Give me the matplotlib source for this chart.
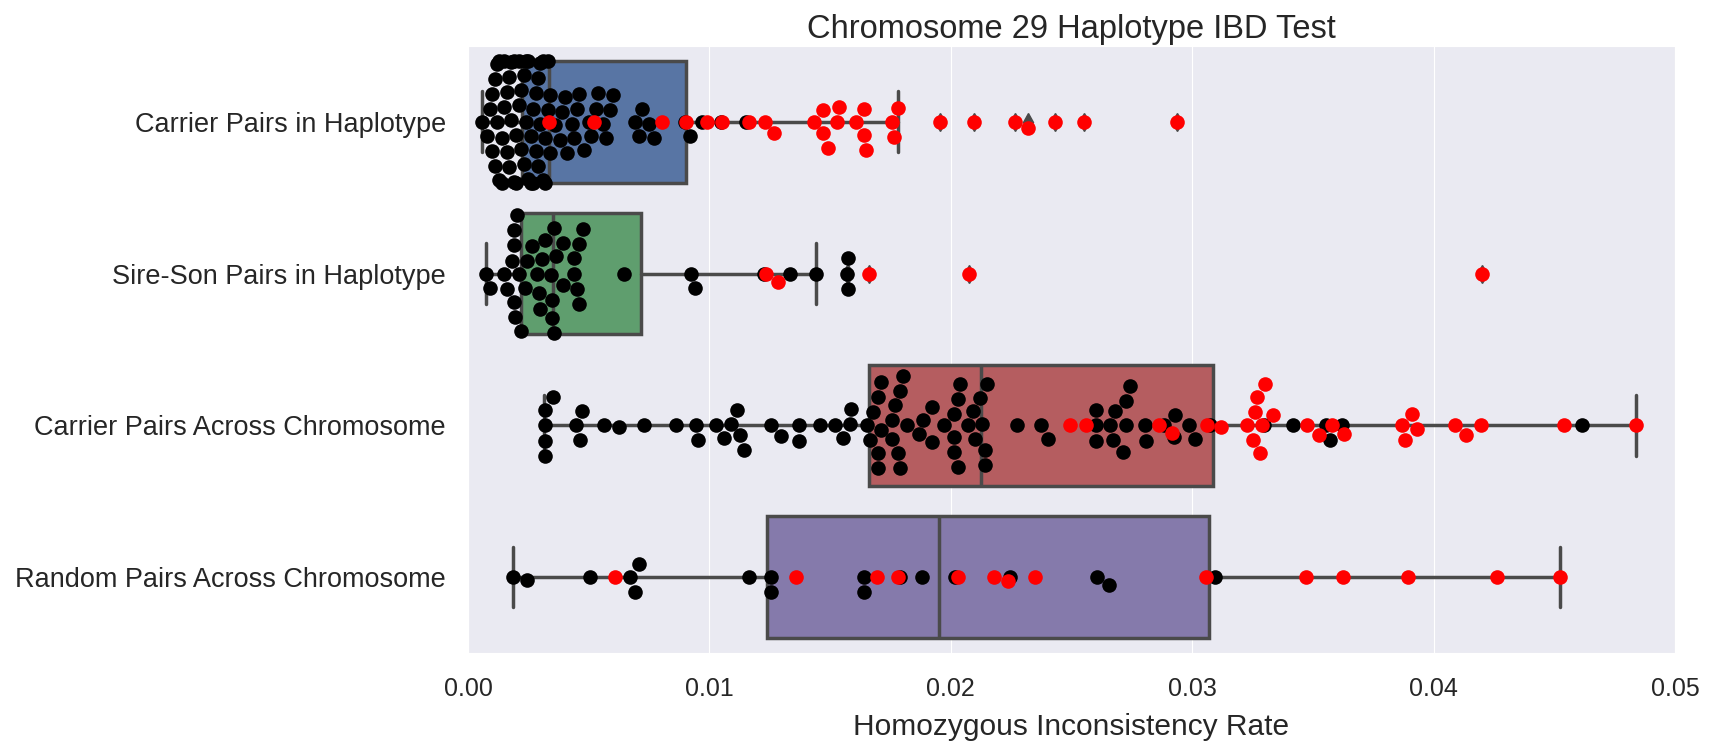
import warnings
import matplotlib
matplotlib.use("Agg")
import matplotlib.pyplot as plt
from matplotlib.ticker import FormatStrFormatter
import numpy as np
import pandas as pd
import seaborn as sns

warnings.filterwarnings("ignore")

groups = ["Carrier Pairs in Haplotype", "Sire-Son Pairs in Haplotype",
          "Carrier Pairs Across Chromosome", "Random Pairs Across Chromosome"]

# black points (per group)
hap_black = [0.00058, 0.0008, 0.0009, 0.0010, 0.0010, 0.0011, 0.0011, 0.0012, 0.0012,
             0.0013, 0.0013, 0.0014, 0.0014, 0.0015, 0.0015, 0.0016, 0.0016, 0.0017,
             0.0017, 0.0018, 0.0018, 0.0019, 0.0019, 0.0020, 0.0020, 0.0021, 0.0021,
             0.0022, 0.0022, 0.0023, 0.0023, 0.0024, 0.0024, 0.0025, 0.0025, 0.0026,
             0.0026, 0.0027, 0.0027, 0.0028, 0.0028, 0.0029, 0.0029, 0.0030, 0.0030,
             0.0031, 0.0031, 0.0032, 0.0032, 0.0033, 0.0033, 0.0034, 0.0034,
             0.0036, 0.0038, 0.0039, 0.0040, 0.0041, 0.0043, 0.0044, 0.0045, 0.0046,
             0.0048, 0.0050, 0.0051, 0.0053, 0.0054, 0.0056, 0.0057, 0.0059, 0.0060,
             0.0069, 0.0071, 0.0072, 0.0075, 0.0077,
             0.0090, 0.0092, 0.0097, 0.0105, 0.0115]
sire_black = [0.00073, 0.00093, 0.00149, 0.0016, 0.00181, 0.00189, 0.00189, 0.00196,
              0.00189, 0.00204, 0.0022, 0.00212, 0.00244, 0.00236, 0.00263, 0.00284,
              0.00299, 0.00319, 0.00292, 0.00307, 0.00347, 0.00355, 0.00347, 0.00355,
              0.00344, 0.00366, 0.00395, 0.00392, 0.00439, 0.0045, 0.00461, 0.00439,
              0.00458, 0.00477, 0.00645, 0.00923, 0.00942, 0.01227, 0.01334, 0.01441,
              0.0157, 0.01576, 0.01576]
chrom_black = [0.0032, 0.0032, 0.0032, 0.0032, 0.00354, 0.00449, 0.00465, 0.00473,
               0.00564, 0.00624, 0.0073, 0.00862, 0.00944, 0.00954,
               0.01028, 0.0106, 0.01088, 0.01116, 0.01126, 0.01144,
               0.01255, 0.01298, 0.01373, 0.01373, 0.01457,
               0.0152, 0.01555, 0.01584, 0.01588, 0.01652, 0.01667, 0.01678,
               0.0170, 0.0170, 0.0170, 0.0171, 0.0171,
               0.01758, 0.01758, 0.0177, 0.0178, 0.0179, 0.0179, 0.0180, 0.0182,
               0.01869, 0.01885, 0.01921, 0.01921,
               0.01972, 0.02012, 0.02012, 0.02012, 0.0203, 0.0203, 0.0204, 0.0207,
               0.0209, 0.0210, 0.0212, 0.0213, 0.0214, 0.0214, 0.0215,
               0.02276, 0.02372, 0.02403, 0.0260, 0.0260, 0.0260,
               0.02661, 0.0267, 0.02678, 0.02724, 0.02712, 0.02724, 0.02743,
               0.02803, 0.0281, 0.02884, 0.02923, 0.02927, 0.02987, 0.03012, 0.03073,
               0.03296, 0.03417, 0.03554, 0.0357, 0.0362, 0.04614]
rand_black = [0.00186, 0.00245, 0.00504, 0.00673, 0.0069, 0.00707, 0.01164, 0.01255,
              0.01255, 0.01641, 0.01641, 0.0179, 0.01881, 0.02017, 0.02247, 0.02605,
              0.02656, 0.03095]

# red points (per group)
hap_red = [0.00336, 0.00521, 0.00803, 0.00902, 0.00988, 0.01054, 0.01165, 0.01229,
           0.01269, 0.01432, 0.01472, 0.01472, 0.01491, 0.01528, 0.01538, 0.01609,
           0.01639, 0.01639, 0.01649, 0.01757, 0.01765, 0.0178, 0.01957, 0.02095,
           0.02264, 0.02319, 0.0243, 0.0255, 0.02935]
sire_red = [0.01235, 0.01286, 0.0166, 0.02076, 0.04199]
chrom_red = [0.02494, 0.02562, 0.02862, 0.02915, 0.03061, 0.03121, 0.03228, 0.0325,
             0.0326, 0.0327, 0.0328, 0.0329, 0.0330, 0.03334, 0.03477, 0.03525,
             0.03577, 0.03628, 0.03869, 0.0388, 0.0391, 0.0393, 0.04087, 0.04134,
             0.04195, 0.04542, 0.04839]
rand_red = [0.00609, 0.01359, 0.01695, 0.0178, 0.0203, 0.02179, 0.02237, 0.02348,
            0.03056, 0.03473, 0.03623, 0.03893, 0.04264, 0.04525]

# box summary
whis_low = [0.00058, 0.00073, 0.00315, 0.00186]
q1 = [0.00225, 0.0022, 0.01663, 0.01238]
median = [0.00336, 0.00352, 0.02123, 0.01949]
q3 = [0.00902, 0.00717, 0.03087, 0.0307]
whis_high = [0.0178, 0.01441, 0.04839, 0.04525]

box_colors = ["#5875A4", "#5F9E6E", "#B55D60", "#857AAB"]
line_gray = "#4a4a4a"

blacks = [hap_black, sire_black, chrom_black, rand_black]
reds = [hap_red, sire_red, chrom_red, rand_red]

black_df = pd.DataFrame({"group": [g for g, v in zip(groups, blacks) for _ in v],
                         "rate": [x for v in blacks for x in v]})
red_df = pd.DataFrame({"group": [g for g, v in zip(groups, reds) for _ in v],
                       "rate": [x for v in reds for x in v]})

sns.set_style("darkgrid")
plt.rcParams["font.family"] = ["Liberation Sans", "DejaVu Sans"]
plt.rcParams["text.color"] = ".15"
plt.rcParams["xtick.color"] = ".15"
plt.rcParams["ytick.color"] = ".15"
plt.rcParams["axes.labelcolor"] = ".15"

fig = plt.figure(figsize=(17.15, 7.45), dpi=100)
ax = fig.add_axes([0.2729, 0.1235, 0.7038, 0.8148])

# box plot from the read-off summary
stats = []
for i in range(4):
    pts = np.array(blacks[i] + reds[i])
    fl = pts[(pts < whis_low[i]) | (pts > whis_high[i])]
    stats.append(dict(whislo=whis_low[i], q1=q1[i], med=median[i], q3=q3[i],
                      whishi=whis_high[i], fliers=fl))

bp = ax.bxp(stats, positions=range(4), widths=0.8, orientation="horizontal",
            patch_artist=True, manage_ticks=False, zorder=1.5,
            boxprops=dict(linewidth=2.5, edgecolor=line_gray),
            medianprops=dict(linewidth=2.5, color=line_gray),
            whiskerprops=dict(linewidth=2.5, color=line_gray),
            capprops=dict(linewidth=2.5, color=line_gray),
            flierprops=dict(marker="d", markersize=9, markerfacecolor=line_gray,
                            markeredgecolor=line_gray))
for patch, c in zip(bp["boxes"], box_colors):
    patch.set_facecolor(c)

sns.swarmplot(data=black_df, x="rate", y="group", order=groups, color="black",
              size=10.5, ax=ax, zorder=3)
sns.swarmplot(data=red_df, x="rate", y="group", order=groups, color="red",
              size=10.5, ax=ax, zorder=4)

ax.set_xlim(0, 0.05)
ax.set_ylim(3.5, -0.5)
ax.set_xticks([0, 0.01, 0.02, 0.03, 0.04, 0.05])
ax.xaxis.set_major_formatter(FormatStrFormatter("%.2f"))
ax.grid(axis="y", visible=False)
ax.tick_params(axis="x", labelsize=18, length=0, pad=17)
ax.tick_params(axis="y", labelsize=19.5, length=0, pad=16)
ax.set_ylabel("")
ax.set_xlabel("Homozygous Inconsistency Rate", fontsize=21.5, labelpad=9)
ax.set_title("Chromosome 29 Haplotype IBD Test", fontsize=23.5, pad=6)

fig.savefig("out.png", dpi=100)
